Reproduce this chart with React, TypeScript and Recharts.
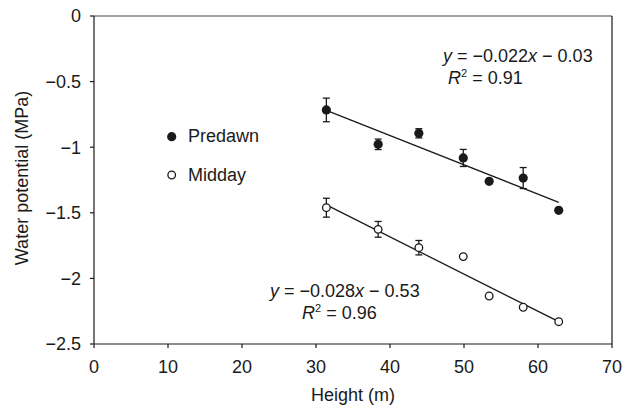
import { ScatterChart, Scatter, XAxis, YAxis, ErrorBar, ReferenceLine, Label } from "recharts";

// ── Data ──────────────────────────────────────────────────────────────────────

const HEIGHTS = [31.4, 38.4, 43.9, 49.9, 53.4, 58.0, 62.8];
const PREDAWN = [-0.716, -0.978, -0.894, -1.082, -1.26, -1.235, -1.481];
const PREDAWN_ERR = [0.09, 0.04, 0.035, 0.065, 0, 0.08, 0];
const MIDDAY = [-1.461, -1.626, -1.766, -1.834, -2.134, -2.22, -2.33];
const MIDDAY_ERR = [0.072, 0.06, 0.055, 0, 0, 0, 0];

const FIT_X = [31.4, 62.8];
const PREDAWN_FIT = [-0.72, -1.42];
const MIDDAY_FIT = [-1.44, -2.33];

const X_TICKS = [0, 10, 20, 30, 40, 50, 60, 70];
const Y_TICKS = [0, -0.5, -1, -1.5, -2, -2.5];

const FONT = "'Liberation Sans', Arial, Helvetica, sans-serif";
const INK = "#1a1a1a";

const predawnData = HEIGHTS.map((x, i) => ({ x, y: PREDAWN[i], err: PREDAWN_ERR[i] }));
const middayData = HEIGHTS.map((x, i) => ({ x, y: MIDDAY[i], err: MIDDAY_ERR[i] }));
const predawnFit = FIT_X.map((x, i) => ({ x, y: PREDAWN_FIT[i] }));
const middayFit = FIT_X.map((x, i) => ({ x, y: MIDDAY_FIT[i] }));

const fmtY = (v: number) => (v === 0 ? "0" : "\u2212" + Math.abs(v));

// ── Shapes ────────────────────────────────────────────────────────────────────

const FilledDot = (p: any) => <circle cx={p.cx} cy={p.cy} r={4.6} fill={INK} />;
const OpenDot = (p: any) => (
  <circle cx={p.cx} cy={p.cy} r={3.8} fill="#fff" stroke={INK} strokeWidth={1.3} />
);
const NoDot = () => <g />;

const eqStyle: React.CSSProperties = {
  position: "absolute",
  fontSize: 18,
  lineHeight: "22px",
  color: INK,
  whiteSpace: "nowrap",
};
const supStyle: React.CSSProperties = { fontSize: 11, verticalAlign: "7px", lineHeight: 0 };

export default function App() {
  return (
    <div
      style={{
        position: "absolute",
        left: 0,
        top: 0,
        width: 623,
        height: 405,
        background: "#fff",
        fontFamily: FONT,
      }}
    >
      <ScatterChart
        width={623}
        height={405}
        margin={{ top: 16, right: 11, bottom: 31, left: 0 }}
        style={{ fontFamily: FONT }}
      >
        <XAxis
          type="number"
          dataKey="x"
          domain={[0, 70]}
          ticks={X_TICKS}
          allowDataOverflow
          height={30}
          tickSize={4}
          tickMargin={12}
          stroke={INK}
          strokeWidth={1.2}
          tick={{ fontSize: 18, fill: INK }}
        >
          <Label
            content={(props: any) => {
              const vb = props.viewBox;
              return (
                <text
                  x={vb.x + vb.width / 2}
                  y={vb.y + 57}
                  textAnchor="middle"
                  fontSize={18}
                  fill={INK}
                >
                  Height (m)
                </text>
              );
            }}
          />
        </XAxis>
        <YAxis
          type="number"
          dataKey="y"
          domain={[-2.5, 0]}
          ticks={Y_TICKS}
          allowDataOverflow
          width={94}
          tickSize={4}
          tickMargin={9}
          tickFormatter={fmtY}
          stroke={INK}
          strokeWidth={1.2}
          tick={{ fontSize: 18, fill: INK }}
        >
          <Label
            content={(props: any) => {
              const vb = props.viewBox;
              const cx = vb.x + 22;
              const cy = vb.y + vb.height / 2 - 2;
              return (
                <text
                  x={cx}
                  y={cy}
                  transform={`rotate(-90 ${cx} ${cy})`}
                  textAnchor="middle"
                  dominantBaseline="central"
                  fontSize={18}
                  fill={INK}
                >
                  Water potential (MPa)
                </text>
              );
            }}
          />
        </YAxis>

        <ReferenceLine y={0} stroke="#444" strokeWidth={1.2} />
        <ReferenceLine x={70} stroke={INK} strokeWidth={1.2} />

        <Scatter
          data={predawnFit}
          line={{ stroke: INK, strokeWidth: 1.3 }}
          shape={NoDot}
          legendType="none"
          isAnimationActive={false}
        />
        <Scatter
          data={middayFit}
          line={{ stroke: INK, strokeWidth: 1.3 }}
          shape={NoDot}
          legendType="none"
          isAnimationActive={false}
        />

        <Scatter data={predawnData} shape={FilledDot} isAnimationActive={false}>
          <ErrorBar dataKey="err" direction="y" width={3.5} stroke={INK} strokeWidth={1.3} />
        </Scatter>
        <Scatter data={middayData} shape={OpenDot} isAnimationActive={false}>
          <ErrorBar dataKey="err" direction="y" width={3.5} stroke={INK} strokeWidth={1.3} />
        </Scatter>
      </ScatterChart>

      {/* legend */}
      <svg style={{ position: "absolute", left: 160, top: 125 }} width={24} height={64}>
        <circle cx={11.7} cy={11.7} r={4.6} fill={INK} />
        <circle cx={11.7} cy={50} r={3.8} fill="#fff" stroke={INK} strokeWidth={1.3} />
      </svg>
      <div style={{ ...eqStyle, left: 188, top: 125 }}>Predawn</div>
      <div style={{ ...eqStyle, left: 188, top: 164 }}>Midday</div>

      {/* fit equations */}
      <div style={{ ...eqStyle, left: 443, top: 45 }}>
        <i>y</i> = {"\u2212"}0.022<i>x</i> {"\u2212"} 0.03
      </div>
      <div style={{ ...eqStyle, left: 448, top: 67 }}>
        <i>R</i>
        <sup style={supStyle}>2</sup> = 0.91
      </div>
      <div style={{ ...eqStyle, left: 270, top: 280 }}>
        <i>y</i> = {"\u2212"}0.028<i>x</i> {"\u2212"} 0.53
      </div>
      <div style={{ ...eqStyle, left: 302, top: 302 }}>
        <i>R</i>
        <sup style={supStyle}>2</sup> = 0.96
      </div>
    </div>
  );
}
